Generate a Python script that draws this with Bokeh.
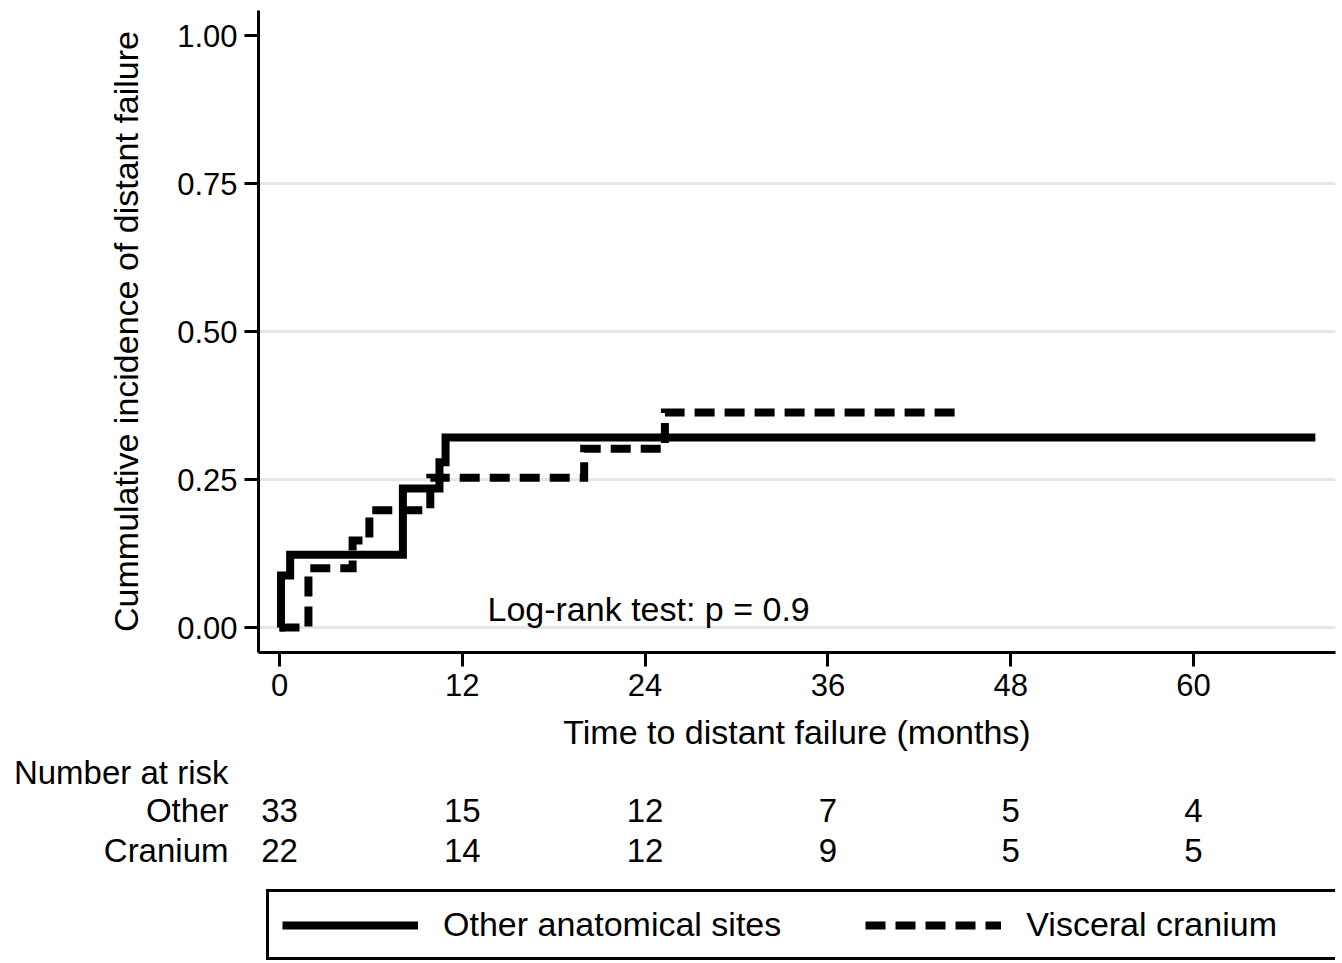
from bokeh.plotting import figure
from bokeh.models import (Range1d, FixedTicker, ColumnDataSource, Label,
                          Legend, LegendItem, LinearAxis)
from bokeh.layouts import column
from bokeh.embed import file_html
from bokeh.resources import INLINE
from bokeh.core.properties import value

# ---------------- data ----------------
other_t = [0, 0.1, 0.7, 8.1, 10.5, 10.9, 68.0]
other_ci = [0.0, 0.088, 0.123, 0.235, 0.279, 0.321, 0.321]
cran_t = [0, 1.9, 4.8, 5.9, 9.9, 20.0, 25.3, 44.9]
cran_ci = [0.0, 0.100, 0.147, 0.198, 0.253, 0.302, 0.363, 0.363]

x_ticks = [0, 12, 24, 36, 48, 60]
y_ticks = [0, 0.25, 0.5, 0.75, 1.0]
y_tick_labels = ["0.00", "0.25", "0.50", "0.75", "1.00"]

risk_times = [0, 12, 24, 36, 48, 60]
risk_other = [33, 15, 12, 7, 5, 4]
risk_cranium = [22, 14, 12, 9, 5, 5]
risk_title = "Number at risk"
groups = ["Other", "Cranium"]
legend_labels = ["Other anatomical sites", "Visceral cranium"]
pvalue_text = "Log-rank test: p = 0.9"
x_title = "Time to distant failure (months)"
y_title = "Cummulative incidence of distant failure"

# ---------------- layout (pixels) ----------------
FONT = "Liberation Sans"
W, H = 1342, 963
LEFT, RIGHT, TOP = 258, 7, 10
FRAME_H = 642
HA = 709                 # main plot (frame + tick labels)
HB = H - HA              # x title + number at risk + legend
B_TOP = 43               # x title band at the top of the lower panel
B_FRAME = HB - B_TOP
px_per_month = 182.8 / 12
px_per_unit = 592.0
k = 1 / px_per_month
xa0 = -21 * k
xa1 = xa0 + (W - LEFT - RIGHT) * k
y0 = -25 / px_per_unit
y1 = y0 + FRAME_H / px_per_unit


def xd(px):   # page pixel -> months (annotation placement)
    return (px - (LEFT + 21)) * k


def yd(py):   # page pixel -> y units (annotation placement)
    return (TOP + FRAME_H - 25 - py) / px_per_unit


xr = Range1d(xa0, xa1)

# ================= main plot =================
p = figure(width=W, height=HA, x_range=xr, y_range=Range1d(y0, y1),
           output_backend="svg", toolbar_location=None,
           min_border_left=LEFT, min_border_right=RIGHT,
           min_border_top=TOP, min_border_bottom=HA - TOP - FRAME_H)
p.outline_line_color = None
p.background_fill_color = "white"
p.border_fill_color = "white"

p.step(x=other_t, y=other_ci, mode="after", line_width=8,
       line_color="black", line_join="miter")
p.step(x=cran_t, y=cran_ci, mode="after", line_width=8,
       line_color="black", line_dash="20 10", line_join="miter")

p.xaxis.ticker = FixedTicker(ticks=x_ticks)
p.yaxis.ticker = FixedTicker(ticks=y_ticks)
p.yaxis.major_label_overrides = {t: l for t, l in zip(y_ticks, y_tick_labels)}
for ax in (p.xaxis, p.yaxis):
    ax.axis_line_width = 3
    ax.axis_line_color = "black"
    ax.major_tick_line_width = 3
    ax.major_tick_line_color = "black"
    ax.major_tick_out = 14
    ax.major_tick_in = 0
    ax.minor_tick_line_color = None
    ax.major_label_text_font = FONT
    ax.major_label_text_font_size = "31px"
    ax.major_label_text_color = "black"
    ax.axis_label_text_font = FONT
    ax.axis_label_text_font_size = "34px"
    ax.axis_label_text_font_style = "normal"
    ax.axis_label_text_color = "black"
p.yaxis.axis_label = y_title
p.xaxis.major_label_standoff = 7
p.yaxis.major_label_standoff = 7
p.yaxis.axis_label_standoff = 29

p.xgrid.visible = False
p.ygrid.ticker = FixedTicker(ticks=[0, 0.25, 0.5, 0.75])
p.ygrid.grid_line_color = "#e6e6e6"
p.ygrid.grid_line_width = 3

p.add_layout(Label(x=xd(487), y=yd(608), text=pvalue_text, text_font=FONT,
                   text_font_size="34px", text_baseline="middle",
                   text_align="left", text_color="black"))

# ================= x title, number at risk, legend =================
RISK_FS = "33px"
row_y = [770 - (HA + B_TOP), 809 - (HA + B_TOP), 849 - (HA + B_TOP)]

q = figure(width=W, height=HB, x_range=xr, y_range=Range1d(B_FRAME, 0),
           output_backend="svg", toolbar_location=None, x_axis_type=None,
           min_border_left=LEFT, min_border_right=RIGHT,
           min_border_top=B_TOP, min_border_bottom=0)
q.outline_line_color = None
q.background_fill_color = "white"
q.border_fill_color = "white"
q.grid.visible = False

# x-axis title of the main plot (bare axis carrying only its label)
tax = LinearAxis(ticker=FixedTicker(ticks=[]), axis_label=x_title,
                 axis_line_color=None, major_tick_line_color=None,
                 minor_tick_line_color=None, major_tick_out=0, major_tick_in=0,
                 major_label_standoff=0, axis_label_standoff=4,
                 axis_label_text_font=FONT, axis_label_text_font_size="34px",
                 axis_label_text_font_style="normal", axis_label_text_color="black")
q.add_layout(tax, "above")

# row titles as the labels of a bare left axis
q.yaxis.ticker = FixedTicker(ticks=row_y)
q.yaxis.major_label_overrides = dict(zip(row_y, [risk_title] + groups))
q.yaxis.axis_line_color = None
q.yaxis.major_tick_line_color = None
q.yaxis.minor_tick_line_color = None
q.yaxis.major_tick_out = 0
q.yaxis.major_tick_in = 0
q.yaxis.major_label_standoff = LEFT - 228
q.yaxis.major_label_text_font = FONT
q.yaxis.major_label_text_font_size = RISK_FS
q.yaxis.major_label_text_color = "black"

txt = dict(text_font=value(FONT), text_font_size=RISK_FS, text_color="black",
           text_baseline="middle", text_align="center")
for counts, yy in ((risk_other, row_y[1]), (risk_cranium, row_y[2])):
    src = ColumnDataSource(dict(x=risk_times, y=[yy] * len(risk_times),
                                t=[str(v) for v in counts]))
    q.text(x="x", y="y", text="t", source=src, **txt)

# legend keys (same styles as the curves; no visible data of their own)
nan = float("nan")
k_other = q.line(x=[nan, nan], y=[nan, nan], line_width=8, line_color="black")
k_cran = q.line(x=[nan, nan], y=[nan, nan], line_width=8, line_color="black",
                line_dash="20 10")
legend = Legend(
    items=[LegendItem(label=legend_labels[0], renderers=[k_other]),
           LegendItem(label=legend_labels[1], renderers=[k_cran])],
    orientation="horizontal",
    location=(266 - LEFT, H - 960),
    border_line_color="black", border_line_width=3, border_line_alpha=1.0,
    background_fill_color="white", background_fill_alpha=1.0,
    padding=13, spacing=84, margin=0,
    glyph_width=136, glyph_height=30, label_standoff=25, label_width=302,
    label_text_font=FONT, label_text_font_size="34px", label_text_color="black",
)
q.add_layout(legend, "center")

open("out.html", "w").write(file_html(column(p, q, spacing=0), INLINE))
